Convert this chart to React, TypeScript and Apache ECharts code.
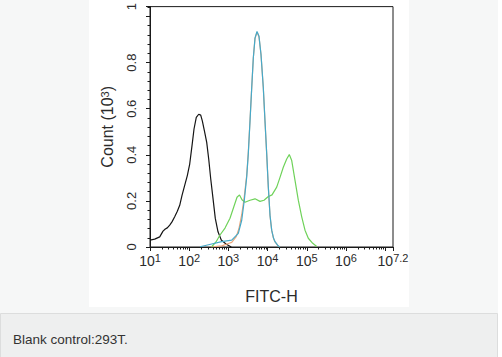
import React, { useEffect, useRef } from "react";
import * as echarts from "echarts";

// x values are log10(FITC-H); y values are Count (10^3)
const blackCurve: [number, number][] = [
  [1.0, 0.03], [1.12, 0.034], [1.248, 0.044], [1.332, 0.069], [1.39, 0.078], [1.441, 0.083],
  [1.503, 0.095], [1.561, 0.109], [1.63, 0.131], [1.697, 0.155], [1.758, 0.181], [1.817, 0.224],
  [1.885, 0.267], [1.952, 0.31], [2.013, 0.36], [2.072, 0.44], [2.123, 0.512], [2.181, 0.562],
  [2.243, 0.576], [2.294, 0.572], [2.335, 0.547], [2.396, 0.497], [2.447, 0.454], [2.498, 0.382],
  [2.549, 0.296], [2.608, 0.21], [2.666, 0.124], [2.735, 0.066], [2.819, 0.03], [2.947, 0.012],
  [3.074, 0.0],
];

const orangeCurve: [number, number][] = [
  [2.55, 0.0], [2.83, 0.005], [3.0, 0.015], [3.085, 0.02], [3.2, 0.045], [3.27, 0.08],
  [3.34, 0.14], [3.4, 0.21], [3.467, 0.31], [3.508, 0.41], [3.552, 0.55], [3.595, 0.69],
  [3.636, 0.82], [3.679, 0.905], [3.73, 0.932], [3.781, 0.912], [3.832, 0.835], [3.891, 0.69],
  [3.934, 0.545], [3.978, 0.4], [4.019, 0.258], [4.062, 0.136], [4.105, 0.072], [4.151, 0.038],
  [4.19, 0.022], [4.274, 0.004], [4.317, 0.0],
];

const greenCurve: [number, number][] = [
  [2.574, 0.001], [2.684, 0.022], [2.786, 0.052], [2.914, 0.082], [3.041, 0.125], [3.143, 0.177],
  [3.22, 0.216], [3.284, 0.226], [3.347, 0.205], [3.424, 0.194], [3.552, 0.203], [3.679, 0.209],
  [3.807, 0.198], [3.909, 0.203], [4.011, 0.218], [4.113, 0.226], [4.233, 0.26], [4.317, 0.302],
  [4.401, 0.346], [4.488, 0.382], [4.554, 0.401], [4.616, 0.375], [4.7, 0.289], [4.784, 0.203],
  [4.871, 0.131], [4.955, 0.073], [5.039, 0.038], [5.152, 0.016], [5.254, 0.002],
];

const cyanCurve: [number, number][] = [
  [2.276, 0.001], [2.574, 0.013], [2.83, 0.023], [3.085, 0.03], [3.253, 0.059], [3.34, 0.116],
  [3.406, 0.203], [3.467, 0.303], [3.508, 0.404], [3.552, 0.547], [3.595, 0.691], [3.636, 0.82],
  [3.679, 0.906], [3.73, 0.935], [3.781, 0.914], [3.832, 0.835], [3.891, 0.691], [3.934, 0.547],
  [3.978, 0.404], [4.019, 0.26], [4.062, 0.138], [4.105, 0.073], [4.151, 0.039], [4.19, 0.023],
  [4.274, 0.004], [4.317, 0.0],
];

const xMin = 1;
const xMax = 7.2;
const xTickExponents = [1, 2, 3, 4, 5, 6, 7, 7.2];
const xLabelExponents = [1, 2, 3, 4, 5, 6, 7.2];
const yMin = 0;
const yMax = 1.043;
const yTickValues = [0, 0.2, 0.4, 0.6, 0.8, 1.0, yMax];
const yLabelValues = [0, 0.2, 0.4, 0.6, 0.8, yMax];
const yLabelTexts = ["0", "0.2", "0.4", "0.6", "0.8", "1"];
const captionText = "Blank control:293T.";

const FONT = '"Liberation Sans", Arial, sans-serif';
const TXT = "#2b2b2b";

const xMinorTicks: number[] = [];
for (let d = 1; d <= 7; d++) {
  for (let k = 2; k <= 9; k++) {
    const v = d + Math.log10(k);
    if (v < xMax) xMinorTicks.push(v);
  }
}
const yMinorTicks: number[] = [];
for (let i = 0; i <= 26; i++) {
  const v = Math.round(i * 0.04 * 1000) / 1000;
  if (v <= yMax) yMinorTicks.push(v);
}

export default function App() {
  const ref = useRef<HTMLDivElement>(null);
  useEffect(() => {
    if (!ref.current) return;
    const chart = echarts.init(ref.current, undefined, { renderer: "svg" });
    const lineSeries = (data: [number, number][], color: string) => ({
      type: "line",
      data,
      showSymbol: false,
      symbol: "none",
      lineStyle: { color, width: 1.2 },
      itemStyle: { color },
      silent: true,
    });
    chart.setOption({
      animation: false,
      graphic: [
        { type: "rect", z: -100, shape: { x: 0, y: 0, width: 498, height: 314 }, style: { fill: "#f6f7f7" } },
        { type: "rect", z: -99, shape: { x: 89, y: 0, width: 320, height: 307 }, style: { fill: "#ffffff" } },
        { type: "rect", z: -99, shape: { x: 0.5, y: 313.5, width: 497, height: 44 }, style: { fill: "#eeefef", stroke: "#dcdddd", lineWidth: 1 } },
        {
          type: "text", z: 10, x: 13, y: 339,
          style: { text: captionText, fill: "#333", font: `13.5px ${FONT}`, verticalAlign: "middle" },
        },
      ],
      grid: {
        left: 150, top: 5, right: 109, bottom: 110,
        show: true, borderColor: "#1a1a1a", borderWidth: 1, backgroundColor: "transparent",
      },
      xAxis: [
        {
          type: "value", min: xMin, max: xMax, position: "bottom",
          name: "FITC-H", nameLocation: "middle", nameGap: 41,
          nameTextStyle: { fontSize: 16, color: TXT, fontFamily: FONT },
          axisLine: { show: true, lineStyle: { color: "#1a1a1a", width: 1 } },
          axisTick: { show: true, customValues: xTickExponents, length: 4, lineStyle: { color: "#1a1a1a" } },
          axisLabel: {
            show: true, customValues: xLabelExponents, margin: 5, hideOverlap: false,
            showMinLabel: true, showMaxLabel: true,
            formatter: (v: number) => `{b|10}{s|${v}}`,
            rich: {
              b: { fontSize: 14, color: TXT, fontFamily: FONT, lineHeight: 17 },
              s: { fontSize: 11, color: TXT, fontFamily: FONT, lineHeight: 11, verticalAlign: "top" },
            },
          },
          splitLine: { show: false },
        },
        {
          type: "value", min: xMin, max: xMax, position: "bottom",
          axisLine: { show: false },
          axisTick: { show: true, customValues: xMinorTicks, length: 2.5, lineStyle: { color: "#1a1a1a" } },
          axisLabel: { show: false },
          splitLine: { show: false },
        },
      ],
      yAxis: [
        {
          type: "value", min: yMin, max: yMax, position: "left",
          name: "Count (10{s|3})", nameLocation: "middle", nameGap: 35, nameRotate: 90,
          nameTextStyle: {
            fontSize: 16, color: TXT, fontFamily: FONT,
            rich: { s: { fontSize: 11, color: TXT, fontFamily: FONT, lineHeight: 11, verticalAlign: "top" } },
          },
          axisLine: { show: true, lineStyle: { color: "#1a1a1a", width: 1 } },
          axisTick: { show: true, customValues: yTickValues, length: 4, lineStyle: { color: "#1a1a1a" } },
          axisLabel: {
            show: true, customValues: yLabelValues, rotate: 90, margin: 12,
            showMinLabel: true, showMaxLabel: true,
            fontSize: 13, color: TXT, fontFamily: FONT,
            formatter: (v: number) => {
              const i = yLabelValues.findIndex((t) => Math.abs(t - v) < 1e-6);
              return i >= 0 ? yLabelTexts[i] : "";
            },
          },
          splitLine: { show: false },
        },
        {
          type: "value", min: yMin, max: yMax, position: "left",
          axisLine: { show: false },
          axisTick: { show: true, customValues: yMinorTicks, length: 2.5, lineStyle: { color: "#1a1a1a" } },
          axisLabel: { show: false },
          splitLine: { show: false },
        },
      ],
      series: [
        lineSeries(blackCurve, "#151515"),
        lineSeries(orangeCurve, "#eaa57a"),
        lineSeries(greenCurve, "#6fd25a"),
        lineSeries(cyanCurve, "#45a9c9"),
      ],
    });
    return () => chart.dispose();
  }, []);
  return (
    <div style={{ position: "absolute", left: 0, top: 0, width: 502, height: 357, background: "#ffffff" }}>
      <div ref={ref} style={{ width: 502, height: 357 }} />
    </div>
  );
}
